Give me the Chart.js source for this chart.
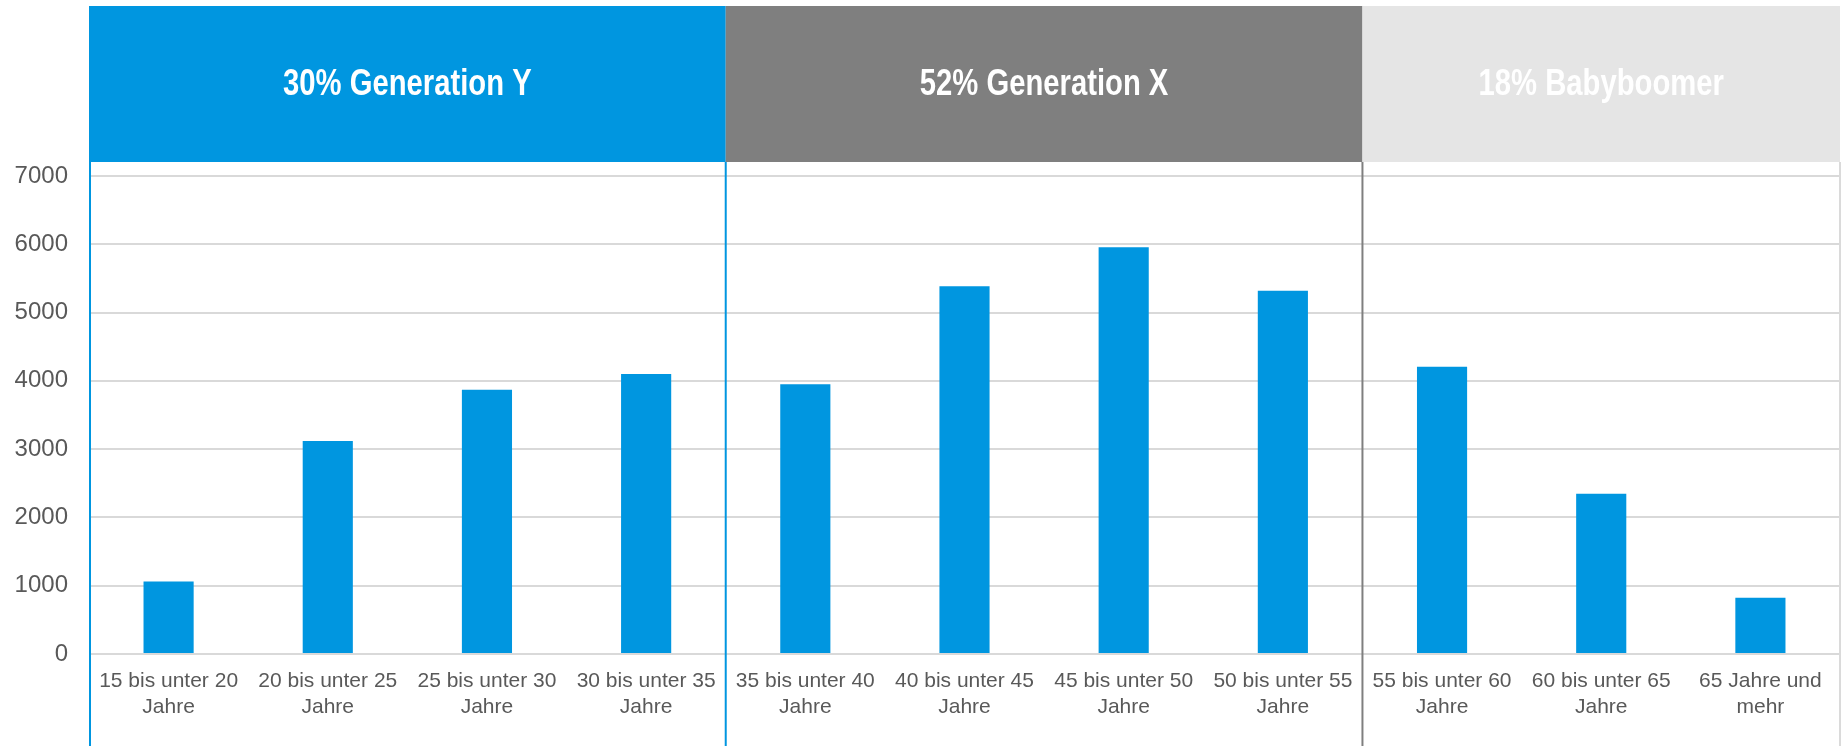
<!DOCTYPE html>
<html>
<head>
<meta charset="utf-8">
<script src="https://cdn.jsdelivr.net/npm/chart.js@4.4.0/dist/chart.umd.min.js"></script>
<style>
    html, body { margin: 0; padding: 0; background: #ffffff; }
    #Chart { display: block; }
</style>
</head>
<body>
<canvas id="Chart" width="1845" height="746"></canvas>
<script>
// Altersgruppen und Anzahl je Gruppe
const categories = [
    ['15 bis unter 20', 'Jahre'],
    ['20 bis unter 25', 'Jahre'],
    ['25 bis unter 30', 'Jahre'],
    ['30 bis unter 35', 'Jahre'],
    ['35 bis unter 40', 'Jahre'],
    ['40 bis unter 45', 'Jahre'],
    ['45 bis unter 50', 'Jahre'],
    ['50 bis unter 55', 'Jahre'],
    ['55 bis unter 60', 'Jahre'],
    ['60 bis unter 65', 'Jahre'],
    ['65 Jahre und', 'mehr']
];
const values = [1060, 3120, 3870, 4100, 3950, 5385, 5955, 5320, 4205, 2345, 825];
const yTicks = [0, 1000, 2000, 3000, 4000, 5000, 6000, 7000];

// Generationen: Titel, Anzahl Altersgruppen, Farbe
const generationNames = ['30% Generation Y', '52% Generation X', '18% Babyboomer'];
const generationSizes = [4, 4, 3];
const generationColors = ['#0096e0', '#7f7f7f', '#e5e5e5'];
const generationLines = ['#0096e0', '#7f7f7f', '#dadada'];

const barColor = '#0096e0';
const textColor = '#595959';

// Grenze zwischen zwei Kategorien auf der x-Achse
function boundary(chart, i)
{
    let x = chart.scales.x;
    let area = chart.chartArea;
    if (i <= 0) return area.left;
    if (i >= categories.length) return area.right;
    return (x.getPixelForValue(i - 1) + x.getPixelForValue(i)) / 2;
}

const generationPlugin = {
    id: 'generations',
    afterDraw: function (chart) {
        let ctx = chart.ctx;
        let area = chart.chartArea;
        let top = 6;
        let bottom = area.top - 14;
        let start = 0;
        ctx.save();
        for (let g = 0; g < generationNames.length; g++) {
            let x0 = boundary(chart, start);
            let x1 = boundary(chart, start + generationSizes[g]);
            ctx.fillStyle = generationColors[g];
            ctx.fillRect(x0, top, x1 - x0, bottom - top);

            // schmale fette Schrift fuer den Titel
            ctx.save();
            ctx.translate((x0 + x1) / 2, (top + bottom) / 2 + 11);
            ctx.scale(0.79, 1);
            ctx.fillStyle = '#ffffff';
            ctx.font = 'bold 37px "Liberation Sans", Arial, sans-serif';
            ctx.textAlign = 'center';
            ctx.textBaseline = 'alphabetic';
            ctx.fillText(generationNames[g], 0, 0);
            ctx.restore();

            // Trennlinien bis zum unteren Rand
            ctx.lineWidth = 2;
            if (g === 0) {
                ctx.strokeStyle = generationLines[0];
                ctx.beginPath();
                ctx.moveTo(x0 + 1, top);
                ctx.lineTo(x0 + 1, chart.height);
                ctx.stroke();
            }
            ctx.strokeStyle = generationLines[g];
            ctx.beginPath();
            ctx.moveTo(x1, bottom);
            ctx.lineTo(x1, chart.height);
            ctx.stroke();
            start += generationSizes[g];
        }
        ctx.restore();
    }
};

let chart = new Chart(document.getElementById('Chart'), {
    type: 'bar',
    data: {
        labels: categories,
        datasets: [{
            data: values,
            backgroundColor: barColor,
            borderWidth: 0,
            barPercentage: 0.63,
            categoryPercentage: 0.5
        }]
    },
    options: {
        responsive: false,
        animation: false,
        layout: {
            padding: {top: 176, right: 5, left: 0, bottom: 0}
        },
        plugins: {
            legend: {display: false},
            tooltip: {enabled: false}
        },
        scales: {
            x: {
                grid: {display: false, drawTicks: false},
                border: {display: false},
                ticks: {
                    color: textColor,
                    font: {family: '"Liberation Sans", Arial, sans-serif', size: 21},
                    padding: 15,
                    maxRotation: 0,
                    autoSkip: false
                },
                afterFit: function (scale) { scale.height = 92; }
            },
            y: {
                min: 0,
                max: 7000,
                afterBuildTicks: function (scale) {
                    scale.ticks = yTicks.map(function (v) { return {value: v}; });
                },
                grid: {color: '#d9d9d9', lineWidth: 2, drawTicks: false},
                border: {display: false},
                ticks: {
                    color: textColor,
                    font: {family: '"Liberation Sans", Arial, sans-serif', size: 24},
                    padding: 21,
                    callback: function (value) { return String(value); }
                },
                afterFit: function (scale) { scale.width = 89; }
            }
        }
    },
    plugins: [generationPlugin]
});
</script>
</body>
</html>
